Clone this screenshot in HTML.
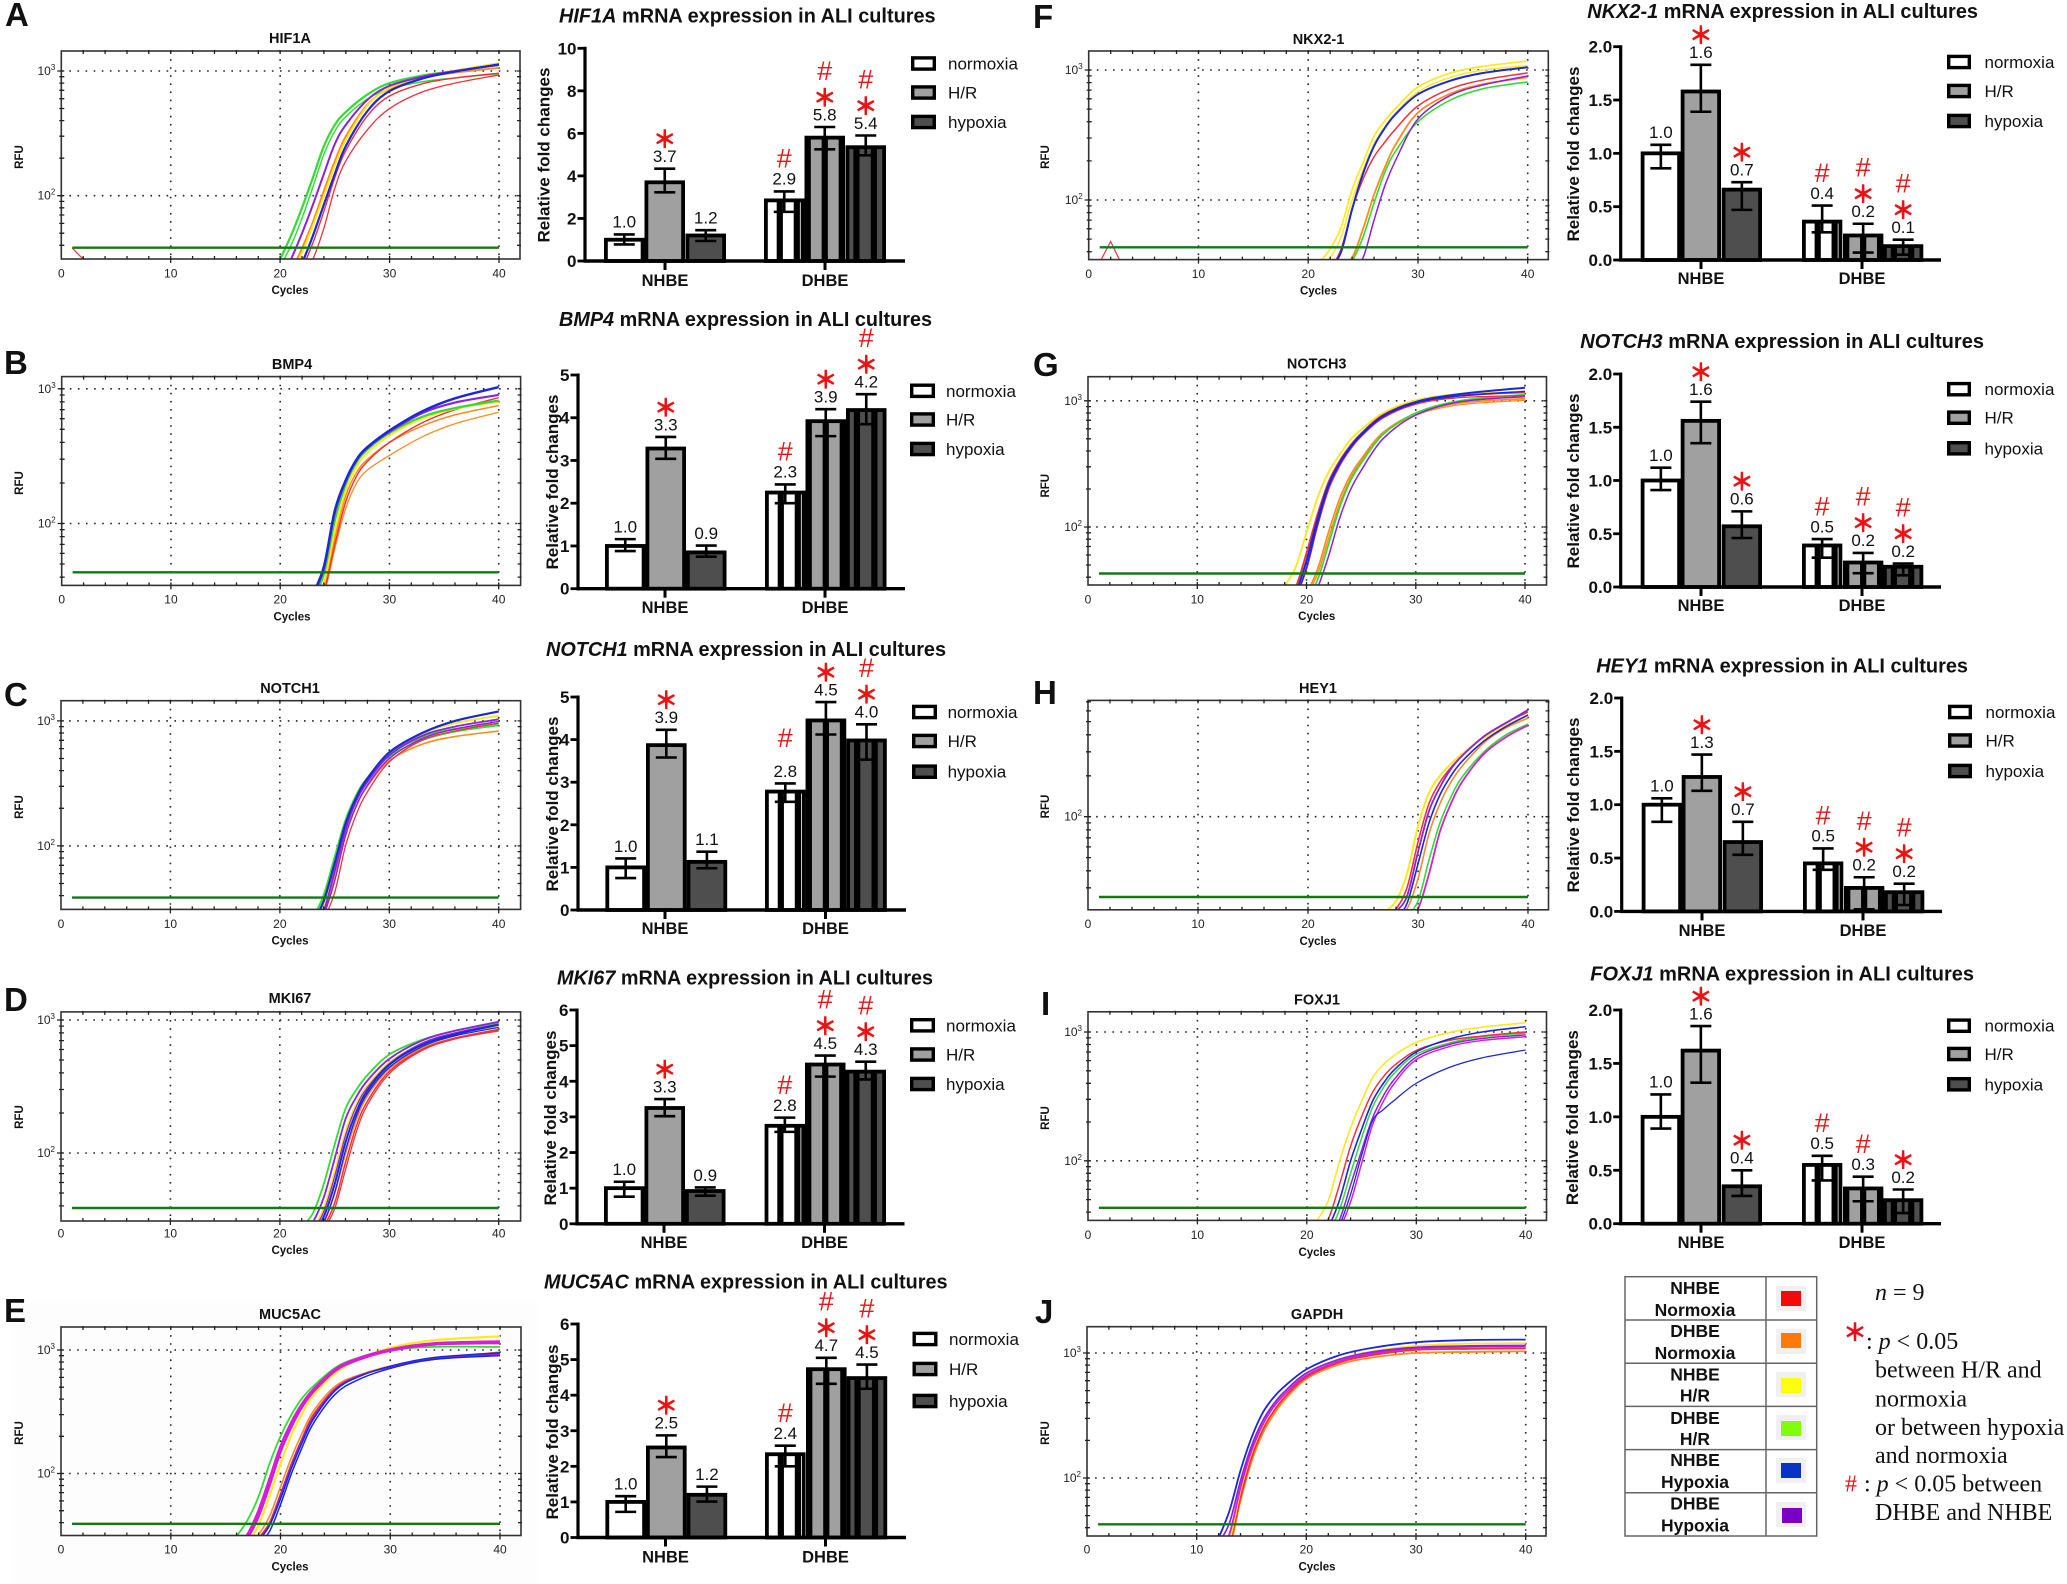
<!DOCTYPE html>
<html lang="en">
<head>
<meta charset="utf-8">
<title>mRNA expression in ALI cultures</title>
<style>
html,body{margin:0;padding:0;background:#fff}
svg{display:block}
text{font-family:"Liberation Sans","Noto Sans CJK JP",sans-serif;fill:#111}
.serif{font-family:"Liberation Serif",serif;font-size:24px}
</style>
</head>
<body>
<svg id="fig" xmlns="http://www.w3.org/2000/svg" width="2067" height="1584" viewBox="0 0 2067 1584">
<rect x="0" y="0" width="2067" height="1584" fill="#fff"/>
<rect x="12" y="1300" width="525" height="284" fill="#fdfdfd"/>
<g id="panels"></g>

<g>
<rect x="1625" y="1276.7" width="191.7" height="259.3" fill="#fff" stroke="#666" stroke-width="1.5"/>
<path d="M1766 1276.7V1536M1625 1320H1816.7M1625 1363.2H1816.7M1625 1406.4H1816.7M1625 1449.6H1816.7M1625 1492.8H1816.7" stroke="#666" stroke-width="1.5" fill="none"/>
<g font-weight="700" font-size="17.5" text-anchor="middle">
<text x="1695" y="1294">NHBE</text><text x="1695" y="1316">Normoxia</text>
<text x="1695" y="1337">DHBE</text><text x="1695" y="1359">Normoxia</text>
<text x="1695" y="1380.5">NHBE</text><text x="1695" y="1401.5">H/R</text>
<text x="1695" y="1424">DHBE</text><text x="1695" y="1445">H/R</text>
<text x="1695" y="1466">NHBE</text><text x="1695" y="1488">Hypoxia</text>
<text x="1695" y="1509.5">DHBE</text><text x="1695" y="1531.5">Hypoxia</text>
</g>
<g fill="#f0f0f0">
<rect x="1776" y="1286" width="30" height="25"/>
<rect x="1776" y="1329" width="30" height="25"/>
<rect x="1776" y="1372" width="30" height="25"/>
<rect x="1776" y="1415" width="30" height="25"/>
<rect x="1776" y="1458" width="30" height="25"/>
<rect x="1776" y="1502" width="30" height="25"/>
</g>
<rect x="1781" y="1291" width="20" height="15" fill="#f50a0a"/>
<rect x="1781" y="1333" width="20" height="15" fill="#ff7a0a"/>
<rect x="1781" y="1378" width="20" height="15" fill="#ffff0a"/>
<rect x="1781" y="1421" width="20" height="15" fill="#7fff0a"/>
<rect x="1781" y="1463" width="20" height="15" fill="#0a32c8"/>
<rect x="1782" y="1508" width="20" height="15" fill="#7a00c8"/>
</g>

<g>
<text class="serif" x="1875" y="1300"><tspan font-style="italic">n</tspan> = 9</text>
<text x="1855" y="1332" font-size="23" stroke="#e8101a" stroke-width="1.2" style="fill:#e8101a" text-anchor="middle" dominant-baseline="central">＊</text>
<text class="serif" x="1866" y="1349">: <tspan font-style="italic">p</tspan> &lt; 0.05</text>
<text class="serif" x="1875" y="1377.7">between H/R and</text>
<text class="serif" x="1875" y="1406.7">normoxia</text>
<text class="serif" x="1875" y="1435">or between hypoxia</text>
<text class="serif" x="1875" y="1463">and normoxia</text>
<text class="serif" x="1845" y="1491.7" style="fill:#e8101a">#</text>
<text class="serif" x="1864" y="1491.7">: <tspan font-style="italic">p</tspan> &lt; 0.05 between</text>
<text class="serif" x="1875" y="1520">DHBE and NHBE</text>
</g>
</svg>

<script>
// ---------- amplification curve readings (RFU at listed cycles) ----------
const A_cycles=[20,21,22,23,24,25,26,28,30,33,36,40];
const A_green=[31,48,80,140,250,370,470,650,800,920,1000,1120];
const A_green2=[27,40,66,118,215,330,430,600,720,820,880,950];
const A_purple=[20,31,50,85,150,260,370,590,760,900,1000,1120];
const A_orange=[18,25,38,62,110,190,300,540,720,880,970,1060];
const A_yellow=[18,24,35,58,100,175,280,530,730,900,1010,1160];
const A_blue=[16,21,29,48,85,150,250,480,690,870,990,1130];
const A_red=[15,18,21,31,55,115,190,340,500,680,800,930];
const A_red2=[15,19,26,42,75,140,230,440,630,790,880,960];
const A_noiseCycles=[1,2,3];
const A_noise=[38,31,25];

const B_cycles=[23,24,25,26,27,28,30,33,36,40];
const B_blue=[30,48,125,210,300,370,490,680,850,1030];
const B_purple=[30,46,120,205,295,365,480,660,790,900];
const B_green=[28,42,105,195,285,355,470,620,720,820];
const B_yellow=[26,36,88,175,265,335,450,600,710,800];
const B_orange=[25,33,78,160,240,300,400,530,640,750];
const B_orange2=[24,30,65,130,200,250,320,440,550,670];
const B_red=[24,31,70,145,225,290,400,560,700,860];

const C_cycles=[23,24,25,26,27,28,30,33,36,40];
const C_blue=[24,36,72,150,245,345,560,800,1000,1190];
const C_green=[26,40,80,160,255,350,540,740,860,950];
const C_green2=[24,36,70,150,245,340,520,700,820,920];
const C_yellow=[22,32,66,140,235,330,540,790,960,1100];
const C_purple=[22,30,62,135,230,325,530,760,900,1030];
const C_purple2=[21,28,52,120,210,305,500,720,860,990];
const C_orange=[22,29,58,125,210,300,480,650,750,830];
const C_red=[20,26,42,100,180,270,470,700,830,960];

const D_cycles=[22,23,24,25,26,27,28,30,33,36,40];
const D_green=[28,35,58,115,215,300,385,550,710,830,950];
const D_purple=[24,30,46,90,180,265,350,510,700,830,970];
const D_purple2=[22,26,36,66,135,225,310,470,670,800,930];
const D_yellow=[22,27,38,72,145,235,320,480,660,790,900];
const D_blue=[21,25,33,58,120,205,295,460,650,780,920];
const D_blue2=[21,24,30,50,105,190,280,440,630,760,880];
const D_orange=[21,24,30,50,100,180,270,430,610,730,830];
const D_red=[20,23,28,42,85,160,245,410,600,730,850];
const D_red2=[20,22,27,38,75,145,230,395,590,720,830];

const E_cycles=[16,17,18,19,20,21,22,23,25,27,30,34,40];
const E_green=[31,42,65,120,200,300,410,510,720,860,1000,1060,1060];
const E_magenta=[24,32,50,90,165,260,370,480,700,850,1010,1130,1170];
const E_magenta2=[23,30,45,80,150,240,350,460,680,830,990,1110,1140];
const E_yellow=[22,27,38,66,120,205,310,430,650,830,1040,1200,1290];
const E_orange=[21,25,32,45,78,135,215,320,510,620,740,850,960];
const E_red=[21,24,30,40,68,120,195,300,490,610,730,840,930];
const E_blue=[20,23,27,34,56,100,165,255,440,570,710,840,900];
const E_blue2=[20,24,29,38,62,110,180,275,470,600,740,870,950];
const E_purple=[20,24,29,38,66,115,190,285,480,610,730,850,930];

const F_cycles=[21,22,23,24,25,26,27,28,30,33,36,40];
const F_yellow=[33,42,62,120,195,310,410,510,740,950,1070,1170];
const F_yellow2=[30,36,52,100,170,270,370,470,680,880,1000,1080];
const F_blue=[25,30,40,85,160,260,360,460,650,830,950,1050];
const F_red=[25,30,42,85,145,215,280,355,530,720,840,950];
const F_orange=[24,28,32,36,60,110,180,270,470,660,780,880];
const F_green=[22,25,28,34,52,95,165,240,400,590,720,810];
const F_purple=[20,22,25,28,36,70,130,205,420,640,770,900];
const F_noiseCycles=[1,2,3];
const F_noise=[33,48,32];

const G_cycles=[18,19,20,21,22,23,24,25,27,30,34,40];
const G_yellow=[34,48,90,170,270,370,490,590,800,1010,1130,1160];
const G_red=[25,33,62,125,225,330,440,550,770,980,1100,1170];
const G_red2=[22,28,46,100,195,300,410,520,730,940,1060,1100];
const G_blue=[23,30,54,115,215,320,430,540,760,980,1130,1270];
const G_blue2=[22,28,48,105,205,310,420,530,745,960,1090,1190];
const G_orange=[20,24,30,46,90,165,255,345,560,790,960,1040];
const G_orange2=[19,23,29,42,80,150,240,330,545,770,930,1010];
const G_green=[19,22,27,38,72,140,230,320,540,800,1000,1120];
const G_purple=[19,21,25,33,58,115,195,280,500,770,980,1080];

const H_cycles=[27,28,29,30,31,32,33,34,36,38,40];
const H_yellow=[20,24,38,85,150,200,245,290,380,470,550];
const H_red=[18,21,30,65,125,180,230,280,390,490,590];
const H_purple=[16,20,26,55,110,165,225,280,390,490,610];
const H_blue=[16,18,23,45,90,145,200,255,360,460,560];
const H_orange=[15,18,21,35,75,125,180,235,350,450,530];
const H_green=[14,16,19,24,48,90,140,195,300,400,480];
const H_magenta=[14,16,18,21,38,78,125,180,290,385,470];

const I_cycles=[21,22,23,24,25,26,27,28,30,33,36,40];
const I_yellow=[35,50,100,180,290,440,560,660,830,990,1090,1180];
const I_red=[28,36,66,130,220,340,450,550,720,860,930,1000];
const I_blue=[24,31,50,100,175,290,400,510,700,880,1000,1100];
const I_green=[22,28,42,80,150,260,370,480,670,820,920,980];
const I_purple=[22,26,35,65,120,215,320,430,640,800,890,950];
const I_magenta=[21,24,30,48,95,190,290,400,610,770,860,920];
const I_blueLow=[21,25,32,55,110,205,250,295,400,530,630,725];

const J_cycles=[12,13,14,15,16,17,18,20,23,26,30,35,40];
const J_blue=[33,55,115,210,330,440,540,740,960,1100,1220,1270,1280];
const J_purple=[30,44,95,180,285,390,490,690,890,1020,1110,1140,1150];
const J_yellow=[25,32,80,160,260,370,470,680,890,1030,1140,1190,1200];
const J_magenta=[26,36,84,165,265,370,465,660,860,990,1090,1120,1130];
const J_red=[24,30,70,145,240,340,440,640,840,960,1060,1080,1090];
const J_orange=[24,28,66,135,225,320,420,620,810,920,1000,1020,1030];

// ---------- bar chart readings (order: NHBE n, H/R, hyp; DHBE n, H/R, hyp) ----------
const A_means=[1.0,3.7,1.2,2.85,5.8,5.35];
const A_low=[0.78,3.23,0.94,2.31,5.25,4.97];
const A_high=[1.25,4.34,1.45,3.27,6.3,5.9];
const A_labels=['1.0','3.7','1.2','2.9','5.8','5.4'];
const A_marks=['','*','','#','#*','#*'];
const A_ticks=[0,2,4,6,8,10];

const B_means=[1.0,3.28,0.85,2.25,3.92,4.18];
const B_low=[0.88,3.04,0.75,2.0,3.57,3.85];
const B_high=[1.16,3.55,1.01,2.44,4.2,4.55];
const B_labels=['1.0','3.3','0.9','2.3','3.9','4.2'];
const B_marks=['','*','','#','*','#*'];
const B_ticks=[0,1,2,3,4,5];

const C_means=[1.0,3.87,1.13,2.78,4.45,3.98];
const C_low=[0.75,3.58,0.98,2.54,4.12,3.53];
const C_high=[1.21,4.23,1.37,2.97,4.88,4.36];
const C_labels=['1.0','3.9','1.1','2.8','4.5','4.0'];
const C_marks=['','*','','# ','*','#*'];
const C_ticks=[0,1,2,3,4,5];

const D_means=[1.0,3.25,0.92,2.75,4.47,4.27];
const D_low=[0.76,3.02,0.79,2.58,4.13,4.05];
const D_high=[1.18,3.5,1.02,2.98,4.72,4.55];
const D_labels=['1.0','3.3','0.9','2.8','4.5','4.3'];
const D_marks=['','*','','#','#*','#*'];
const D_ticks=[0,1,2,3,4,5,6];

const E_means=[1.0,2.53,1.2,2.34,4.73,4.48];
const E_low=[0.72,2.26,1.01,2.0,4.32,4.18];
const E_high=[1.16,2.87,1.43,2.58,5.05,4.86];
const E_labels=['1.0','2.5','1.2','2.4','4.7','4.5'];
const E_marks=['','*','','#','#*','#*'];
const E_ticks=[0,1,2,3,4,5,6];

const F_means=[1.0,1.58,0.66,0.36,0.23,0.13];
const F_low=[0.86,1.39,0.47,0.26,0.07,0.05];
const F_high=[1.08,1.83,0.73,0.51,0.34,0.19];
const F_labels=['1.0','1.6','0.7','0.4','0.2','0.1'];
const F_marks=['','*','*','#','#*','#*'];
const F_ticks=[0,0.5,1,1.5,2];

const G_means=[1.0,1.56,0.57,0.39,0.23,0.19];
const G_low=[0.91,1.35,0.46,0.275,0.13,0.11];
const G_high=[1.12,1.74,0.71,0.45,0.32,0.22];
const G_labels=['1.0','1.6','0.6','0.5','0.2','0.2'];
const G_marks=['','*','*','#','#*','#*'];
const G_ticks=[0,0.5,1,1.5,2];

const H_means=[1.0,1.26,0.65,0.45,0.22,0.18];
const H_low=[0.84,1.13,0.53,0.39,0.02,0.06];
const H_high=[1.06,1.47,0.84,0.59,0.32,0.26];
const H_labels=['1.0','1.3','0.7','0.5','0.2','0.2'];
const H_marks=['','*','*','#','#*','#*'];
const H_ticks=[0,0.5,1,1.5,2];

const I_means=[1.0,1.62,0.35,0.55,0.33,0.22];
const I_low=[0.89,1.32,0.26,0.405,0.21,0.1];
const I_high=[1.21,1.85,0.5,0.635,0.44,0.32];
const I_labels=['1.0','1.6','0.4','0.5','0.3','0.2'];
const I_marks=['','*','*','#','#','*'];
const I_ticks=[0,0.5,1,1.5,2];

const legendNames=['normoxia','H/R','hypoxia'];
const groupNames=['NHBE','DHBE'];
const xTickLabels=[0,10,20,30,40];

const RED='#f2303a',ORG='#ff8a1e',YEL='#ffe81e',GRN='#32dc32',BLU='#1a28d8',PUR='#8c22dc',MAG='#d61ed6';

// ---------- layout ----------
const qpcr=[
 {id:'a',letter:'A',lx:5,ly:26,title:'HIF1A',x0:61.3,x40:499,right:520,top:51,y3:71,y2:195.7,bot:259,thr:247.7,tx:290,ty:38,cy:290,ky:273,ry:157,rx:19,cycles:A_cycles,noise:[A_noiseCycles,A_noise],
  series:[[GRN,A_green,2.2],[GRN,A_green2,1.4],[ORG,A_orange,1.8],[YEL,A_yellow,1.8],[PUR,A_purple,2],[RED,A_red2,1.4],[BLU,A_blue,2.2],[RED,A_red,1.3]]},
 {id:'b',letter:'B',lx:4,ly:374,title:'BMP4',x0:61.7,x40:498.7,right:520.6,top:376.6,y3:388.8,y2:523.5,bot:585.4,thr:572.3,tx:292,ty:364,cy:616.5,ky:599,ry:483,rx:19,cycles:B_cycles,
  series:[[ORG,B_orange2,1.3],[ORG,B_orange,1.5],[RED,B_red,1.4],[YEL,B_yellow,1.8],[GRN,B_green,2.2],[PUR,B_purple,2.2],[BLU,B_blue,2.4]]},
 {id:'c',letter:'C',lx:4,ly:706,title:'NOTCH1',x0:61,x40:498.7,right:520.6,top:700.7,y3:720.9,y2:845.9,bot:909.4,thr:897.6,tx:290,ty:688,cy:940.6,ky:923.3,ry:807,rx:19,cycles:C_cycles,
  series:[[ORG,C_orange,1.6],[YEL,C_yellow,2],[GRN,C_green,2.2],[GRN,C_green2,1.6],[PUR,C_purple,1.8],[PUR,C_purple2,1.4],[RED,C_red,1.3],[BLU,C_blue,2.2]]},
 {id:'d',letter:'D',lx:4,ly:1011,title:'MKI67',x0:61,x40:498.7,right:520.6,top:1011.9,y3:1020,y2:1153,bot:1221,thr:1208,tx:290,ty:998,cy:1250,ky:1233,ry:1117,rx:19,cycles:D_cycles,
  series:[[GRN,D_green,1.8],[ORG,D_orange,2],[RED,D_red,1.5],[RED,D_red2,1.3],[YEL,D_yellow,2],[PUR,D_purple,1.8],[PUR,D_purple2,1.3],[BLU,D_blue,2],[BLU,D_blue2,1.3]]},
 {id:'e',letter:'E',lx:4,ly:1322,title:'MUC5AC',x0:61,x40:500,right:521,top:1327,y3:1350,y2:1473.5,bot:1535.5,thr:1523.8,tx:290,ty:1314,cy:1566.7,ky:1549,ry:1433,rx:19,cycles:E_cycles,
  series:[[GRN,E_green,1.8],[YEL,E_yellow,2.2],[MAG,E_magenta,2.6],[MAG,E_magenta2,2.6],[ORG,E_orange,1.6],[RED,E_red,1.6],[PUR,E_purple,1.8],[BLU,E_blue2,1.4],[BLU,E_blue,1.5]]},
 {id:'f',letter:'F',lx:1033,ly:28,title:'NKX2-1',x0:1088.7,x40:1527.7,right:1548.3,top:51,y3:70,y2:200,bot:259.6,thr:247.3,tx:1318.5,ty:38.8,cy:290.6,ky:273.5,ry:157,rx:1045,cycles:F_cycles,noise:[F_noiseCycles,F_noise],
  series:[[YEL,F_yellow,1.7],[YEL,F_yellow2,1.5],[GRN,F_green,1.6],[ORG,F_orange,1.8],[RED,F_red,1.5],[PUR,F_purple,1.5],[BLU,F_blue,2]]},
 {id:'g',letter:'G',lx:1033,ly:376,title:'NOTCH3',x0:1088,x40:1525,right:1546.5,top:376.7,y3:400.8,y2:527,bot:585,thr:573.5,tx:1316.7,ty:363.7,cy:616,ky:598.8,ry:485.7,rx:1045,cycles:G_cycles,
  series:[[YEL,G_yellow,1.9],[ORG,G_orange,1.7],[ORG,G_orange2,1.3],[GRN,G_green,1.7],[PUR,G_purple,1.5],[RED,G_red,1.9],[RED,G_red2,1.3],[BLU,G_blue2,1.4],[BLU,G_blue,2]]},
 {id:'h',letter:'H',lx:1033,ly:704,title:'HEY1',x0:1088,x40:1528,right:1548.5,top:700.4,y3:680.7,y2:816.7,bot:909.8,thr:897,tx:1318,ty:688,cy:940.8,ky:923.7,ry:806.5,rx:1045,cycles:H_cycles,noTop:true,
  series:[[YEL,H_yellow,2],[ORG,H_orange,1.6],[GRN,H_green,1.6],[RED,H_red,1.6],[BLU,H_blue,1.6],[MAG,H_magenta,1.8],[PUR,H_purple,1.8]]},
 {id:'i',letter:'I',lx:1041,ly:1015,title:'FOXJ1',x0:1088,x40:1525.7,right:1546.5,top:1011.8,y3:1032,y2:1160.8,bot:1220.4,thr:1207.8,tx:1317,ty:999.6,cy:1252,ky:1234.7,ry:1118,rx:1045,cycles:I_cycles,
  series:[[YEL,I_yellow,1.6],[GRN,I_green,1.5],[RED,I_red,1.5],[PUR,I_purple,1.5],[MAG,I_magenta,1.5],[BLU,I_blueLow,1.3],[BLU,I_blue,1.6]]},
 {id:'j',letter:'J',lx:1035,ly:1323,title:'GAPDH',x0:1087,x40:1525.7,right:1546,top:1326.7,y3:1353,y2:1478,bot:1536,thr:1524.3,tx:1317,ty:1314,cy:1566.7,ky:1549,ry:1433,rx:1045,cycles:J_cycles,
  series:[[ORG,J_orange,1.8],[RED,J_red,1.8],[YEL,J_yellow,1.8],[MAG,J_magenta,1.8],[PUR,J_purple,1.7],[BLU,J_blue,1.8]]}
];

const bars=[
 {id:'a',gene:'HIF1A',tx0:559,tx1:935.6,ty:15.7,axisX:585,ymax:10,ticks:A_ticks,fmt:0,ytop:48.3,y0:261,xend:905,xs:[604,644.5,685.5,764,804.5,845.5],bw:40.5,gx:[665,825],gy:280,ltx:948,lrx:911,lw:25,lys:[63.5,92.5,122],rotX:543.6,rotY:155,means:A_means,low:A_low,high:A_high,labels:A_labels,marks:A_marks},
 {id:'b',gene:'BMP4',tx0:559,tx1:932,ty:319,axisX:578,ymax:5,ticks:B_ticks,fmt:0,ytop:375,y0:588.7,xend:905,xs:[605,645.5,686,765,805.5,846],bw:40.5,gx:[665,825],gy:607,ltx:946,lrx:910,lw:25,lys:[390.8,419.5,449],rotX:552,rotY:482,means:B_means,low:B_low,high:B_high,labels:B_labels,marks:B_marks},
 {id:'c',gene:'NOTCH1',tx0:546,tx1:946,ty:649,axisX:578,ymax:5,ticks:C_ticks,fmt:0,ytop:697,y0:910,xend:906,xs:[605.4,646,686.6,765,805.6,846.2],bw:40.6,gx:[665,825.5],gy:928,ltx:947.6,lrx:912,lw:25,lys:[712,741,771.7],rotX:552,rotY:804,means:C_means,low:C_low,high:C_high,labels:C_labels,marks:C_marks},
 {id:'d',gene:'MKI67',tx0:557,tx1:933,ty:977.5,axisX:577,ymax:6,ticks:D_ticks,fmt:0,ytop:1010,y0:1223.8,xend:904.5,xs:[604,644.5,685,764.6,805,845.5],bw:40.5,gx:[664,824.5],gy:1242,ltx:946,lrx:910,lw:25,lys:[1025.3,1054.5,1084],rotX:550,rotY:1118,means:D_means,low:D_low,high:D_high,labels:D_labels,marks:D_marks},
 {id:'e',gene:'MUC5AC',tx0:544,tx1:947.6,ty:1281.6,axisX:578,ymax:6,ticks:E_ticks,fmt:0,ytop:1324,y0:1537.5,xend:906,xs:[605.4,646,686.6,765,806,846.6],bw:40.6,gx:[665.5,825.5],gy:1556.5,ltx:949,lrx:912.5,lw:25,lys:[1339,1369,1401],rotX:552,rotY:1432,means:E_means,low:E_low,high:E_high,labels:E_labels,marks:E_marks},
 {id:'f',gene:'NKX2-1',tx0:1587.3,tx1:1978,ty:11,axisX:1620.7,ymax:2,ticks:F_ticks,fmt:1,ytop:46.7,y0:260,xend:1941,xs:[1640.7,1680.7,1721.7,1802,1843,1883],bw:40.3,gx:[1701,1862],gy:278,ltx:1984.5,lrx:1947,lw:24,lys:[62,91,121],rotX:1573,rotY:154,means:F_means,low:F_low,high:F_high,labels:F_labels,marks:F_marks},
 {id:'g',gene:'NOTCH3',tx0:1580.3,tx1:1984,ty:341,axisX:1620.7,ymax:2,ticks:G_ticks,fmt:1,ytop:374,y0:587,xend:1941,xs:[1640.7,1680.7,1721.7,1802,1843,1883],bw:40.3,gx:[1701,1862],gy:605,ltx:1984.5,lrx:1947,lw:24,lys:[389.2,417.7,448.3],rotX:1573,rotY:481,means:G_means,low:G_low,high:G_high,labels:G_labels,marks:G_marks},
 {id:'h',gene:'HEY1',tx0:1596.3,tx1:1968,ty:665.7,axisX:1621.7,ymax:2,ticks:H_ticks,fmt:1,ytop:698,y0:911.4,xend:1942,xs:[1641.7,1681.7,1722.7,1803,1844,1884],bw:40.3,gx:[1702,1863],gy:930,ltx:1985.5,lrx:1948,lw:24,lys:[712,740.5,771],rotX:1573,rotY:805,means:H_means,low:H_low,high:H_high,labels:H_labels,marks:H_marks},
 {id:'i',gene:'FOXJ1',tx0:1590.3,tx1:1974,ty:973.5,axisX:1620.7,ymax:2,ticks:I_ticks,fmt:1,ytop:1010,y0:1223.7,xend:1941,xs:[1640.7,1680.7,1721.7,1802,1843,1883],bw:40.3,gx:[1701,1862],gy:1242,ltx:1984.5,lrx:1947,lw:24,lys:[1025.7,1054,1084.3],rotX:1572,rotY:1117.6,means:I_means,low:I_low,high:I_high,labels:I_labels,marks:I_marks}
];

// ---------- drawing ----------
const NS='http://www.w3.org/2000/svg';
const root=document.getElementById('panels');
function make(tag,attrs,parent,txt){
  const el=document.createElementNS(NS,tag);
  for(const k in attrs)el.setAttribute(k,attrs[k]);
  if(txt!==undefined)el.textContent=txt;
  parent.appendChild(el);
  return el;
}
function smoothPath(pts){
  let d='M'+pts[0][0].toFixed(2)+' '+pts[0][1].toFixed(2);
  for(let i=0;i<pts.length-1;i++){
    const p0=pts[i-1]||pts[i],p1=pts[i],p2=pts[i+1],p3=pts[i+2]||p2;
    d+='C'+(p1[0]+(p2[0]-p0[0])/6).toFixed(2)+' '+(p1[1]+(p2[1]-p0[1])/6).toFixed(2)+' '+(p2[0]-(p3[0]-p1[0])/6).toFixed(2)+' '+(p2[1]-(p3[1]-p1[1])/6).toFixed(2)+' '+p2[0].toFixed(2)+' '+p2[1].toFixed(2);
  }
  return d;
}

function drawQpcr(p){
  const xScale=c=>p.x0+(p.x40-p.x0)*c/40;
  const dec=p.y2-p.y3;
  const yScale=v=>p.y2-(Math.log10(v)-2)*dec;
  const g=make('g',{},root);
  
  

  const letter=make('text',{x:p.lx,y:p.ly,'font-size':33,'font-weight':700},g,p.letter);
  
  

  const title=make('text',{x:p.tx,y:p.ty+5,'font-size':14.5,'font-weight':700,'text-anchor':'middle'},g,p.title);
  
  

  const cid='clip-'+p.id;
  const defs=make('defs',{},g);
  const cp=make('clipPath',{id:cid},defs);
  make('rect',{x:p.x0,y:p.top,width:p.right-p.x0,height:p.bot-p.top},cp);

  xTickLabels.slice(1).forEach(c=>{
    const gl=make('line',{x1:xScale(c),x2:xScale(c),y1:p.top,y2:p.bot,stroke:'#222','stroke-width':1.6,'stroke-dasharray':'1.6 6.5'},g);
    
    
  });
  [p.y3,p.y2].forEach((yy,i)=>{
    if(p.noTop&&i===0)return;
    const gl=make('line',{x1:p.x0,x2:p.right,y1:yy,y2:yy,stroke:'#222','stroke-width':1.6,'stroke-dasharray':'1.6 6.5'},g);
    
    
  });

  const cg=make('g',{'clip-path':'url(#'+cid+')',fill:'none'},g);
  
  
  if(p.noise){
    const pts=p.noise[0].map((c,i)=>[xScale(c),yScale(p.noise[1][i])]);
    const nl=make('polyline',{points:pts.map(q=>q.join(',')).join(' '),stroke:RED,'stroke-width':1.2},cg);
    
    
  }
  p.series.forEach(s=>{
    const pts=p.cycles.map((c,i)=>[xScale(c),yScale(s[1][i])]);
    const path=make('path',{d:smoothPath(pts),stroke:s[0],'stroke-width':s[2]},cg);
    
    
  });

  const th=make('line',{x1:xScale(1),x2:xScale(40),y1:p.thr,y2:p.thr,stroke:'#127a12','stroke-width':2.4},g);
  
  

  const frame=make('rect',{x:p.x0,y:p.top,width:p.right-p.x0,height:p.bot-p.top,fill:'none',stroke:'#333','stroke-width':1.6},g);
  
  

  let d='';
  for(let c=2;c<=40;c+=2){
    const x=xScale(c).toFixed(1),major=c%10===0;
    d+='M'+x+' '+(p.bot+(major?4:0))+'V'+(p.bot-3)+'M'+x+' '+(p.top-1)+'V'+(p.top+3);
  }
  for(let e=1;e<=3;e++){
    for(let m=1;m<=9;m++){
      const yy=yScale(m*Math.pow(10,e));
      if(yy<p.top||yy>p.bot)continue;
      d+='M'+(p.x0-(m===1?4:2))+' '+yy.toFixed(1)+'H'+(p.x0+3)+'M'+(p.right-3)+' '+yy.toFixed(1)+'H'+(p.right+1);
    }
  }
  const ticks=make('path',{d:d,stroke:'#222','stroke-width':1.3,fill:'none'},g);
  
  

  xTickLabels.forEach(c=>{
    const t=make('text',{x:xScale(c),y:p.ky+4.5,'font-size':12,'text-anchor':'middle',style:'fill:#222'},g,String(c));
    
    
  });
  [[p.y3,'3'],[p.y2,'2']].forEach((r,i)=>{
    if(p.noTop&&i===0)return;
    const t=make('text',{x:p.x0-6,y:r[0]+4,'font-size':12,'text-anchor':'end',style:'fill:#222'},g);
    
    
    make('tspan',{},t,'10');
    make('tspan',{dy:-5,'font-size':8},t,r[1]);
  });

  const xt=make('text',{x:p.tx,y:p.cy+4,'font-size':11.5,'font-weight':700,'text-anchor':'middle'},g,'Cycles');
  
  

  const yt=make('text',{x:p.rx,y:p.ry,'font-size':11.5,'font-weight':700,'text-anchor':'middle',transform:'rotate(-90 '+p.rx+' '+p.ry+') translate(0 4)'},g,'RFU');
  
  
}

function drawBars(b){
  const yScale=v=>b.y0-(b.y0-b.ytop)*v/b.ymax;
  const fills=['#ffffff','#a0a0a0','#4e4e4e'];
  const stripeOffsets=[[0.39,0.81],[0.08,0.5,0.92],[0.27,0.7]];
  const g=make('g',{},root);
  
  

  const title=make('text',{x:b.tx0,y:b.ty+7,'font-size':20,'font-weight':700,textLength:b.tx1-b.tx0,lengthAdjust:'spacingAndGlyphs'},g);
  
  
  make('tspan',{'font-style':'italic'},title,b.gene);
  make('tspan',{},title,' mRNA expression in ALI cultures');

  b.means.forEach((v,i)=>{
    const x=b.xs[i],w=b.bw,yy=yScale(v),k=i%3,dhbe=i>=3;
    const sw=3.8;
    const r=make('rect',{x:x+sw/2,y:yy,width:w-sw,height:b.y0-yy,fill:fills[k],stroke:'#000','stroke-width':sw},g);
    
    
    if(dhbe){
      stripeOffsets[k].forEach(o=>{
        const st=make('rect',{x:x+w*o-3.1,y:yy,width:6.2,height:b.y0-yy,fill:'#000'},g);
        
        
      });
    }
  });

  b.means.forEach((v,i)=>{
    const cx=b.xs[i]+b.bw/2,yh=yScale(b.high[i]),yl=yScale(b.low[i]);
    const e=make('path',{d:'M'+cx+' '+yh+'V'+yl+'M'+(cx-10.5)+' '+yh+'H'+(cx+10.5)+'M'+(cx-10.5)+' '+yl+'H'+(cx+10.5),stroke:'#000','stroke-width':2.6,fill:'none'},g);
    
    
    let ly=yh-12.7;
    const lab=make('text',{x:cx,y:ly+6,'font-size':17,'text-anchor':'middle'},g,b.labels[i]);
    
    
    const chars=b.marks[i].split('').reverse();
    let first=true;
    chars.forEach(ch=>{
      if(ch===' '){ly-=13;return;}
      ly-=first?20.5:23.5;
      first=false;
      if(ch==='*'){
        const s=make('text',{x:cx,y:ly+3.5,'font-size':23,'text-anchor':'middle','dominant-baseline':'central',stroke:'#ea1414','stroke-width':1.2,style:'fill:#ea1414'},g,'＊');
        
        
      }else{
        const h=make('text',{x:cx,y:ly+9.5,'font-size':27,'text-anchor':'middle',style:'fill:#ea1414'},g,'#');
        
        
      }
    });
  });

  const ya=make('line',{x1:b.axisX,x2:b.axisX,y1:b.ytop-1.5,y2:b.y0+1.5,stroke:'#000','stroke-width':3.2},g);
  
  
  const xa=make('line',{x1:b.axisX-1.5,x2:b.xend,y1:b.y0,y2:b.y0,stroke:'#000','stroke-width':3.4},g);
  
  

  b.ticks.forEach(v=>{
    const yy=yScale(v);
    const t=make('line',{x1:b.axisX-7.5,x2:b.axisX,y1:yy,y2:yy,stroke:'#000','stroke-width':2.8},g);
    
    
    const l=make('text',{x:b.axisX-8.5,y:yy+6,'font-size':17,'font-weight':700,'text-anchor':'end'},g,b.fmt?v.toFixed(1):String(v));
    
    
  });

  groupNames.forEach((n,i)=>{
    const t=make('line',{x1:b.gx[i],x2:b.gx[i],y1:b.y0,y2:b.y0+9,stroke:'#000','stroke-width':3},g);
    
    
    const l=make('text',{x:b.gx[i],y:b.gy+6,'font-size':16.5,'font-weight':700,'text-anchor':'middle'},g,n);
    
    
  });

  const rot=make('text',{x:b.rotX,y:b.rotY,'font-size':17,'font-weight':700,'text-anchor':'middle',textLength:175,lengthAdjust:'spacingAndGlyphs',transform:'rotate(-90 '+b.rotX+' '+b.rotY+') translate(0 6)'},g,'Relative fold changes');
  
  

  legendNames.forEach((n,i)=>{
    const yy=b.lys[i];
    const box=make('rect',{x:b.lrx+1.7,y:yy-5.6,width:b.lw-3.4,height:11.2,fill:fills[i],stroke:'#000','stroke-width':3.4},g);
    
    
    const t=make('text',{x:b.ltx,y:yy+6,'font-size':17},g,n);
    
    
  });
}

qpcr.forEach(drawQpcr);
bars.forEach(drawBars);
</script>
</body>
</html>
